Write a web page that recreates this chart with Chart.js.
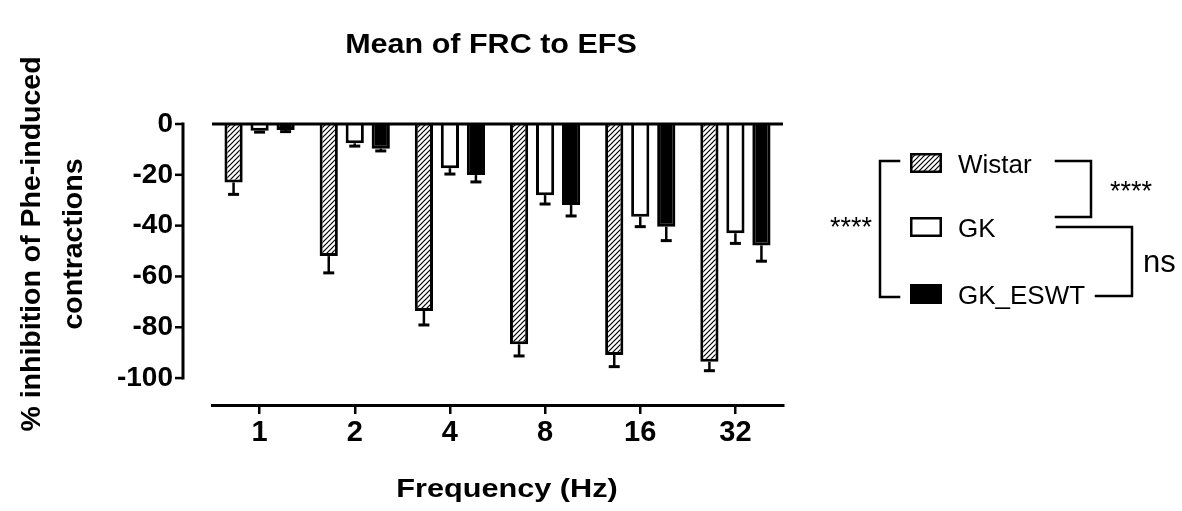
<!DOCTYPE html>
<html><head><meta charset="utf-8">
<script src="https://cdn.jsdelivr.net/npm/chart.js@4.4.1/dist/chart.umd.min.js"></script>
<style>html,body{margin:0;padding:0;background:#fff;} canvas{display:block;}</style>
</head><body>
<canvas id="c" width="1182" height="511"></canvas>
<script>
// ---- data ----
const frequencies = ['1', '2', '4', '8', '16', '32'];
const seriesNames = ['Wistar', 'GK', 'GK_ESWT'];
const wistarMean  = [-23.0, -52.0, -73.6, -86.7, -90.9, -93.6];
const wistarSem   = [4.7, 6.6, 5.5, 4.6, 4.6, 3.5];
const gkMean      = [-2.7, -7.6, -17.4, -28.0, -36.5, -43.0];
const gkSem       = [0.5, 1.1, 2.3, 3.5, 3.9, 4.0];
const gkEswtMean  = [-2.4, -9.7, -20.1, -31.9, -40.4, -47.8];
const gkEswtSem   = [0.6, 0.9, 2.7, 4.3, 5.5, 6.2];
const yTickValues = [0, -20, -40, -60, -80, -100];
const titleText   = 'Mean of FRC to EFS';
const xTitleText  = 'Frequency (Hz)';
const yTitleLines = ['% inhibition of Phe-induced', 'contractions'];
const sigLabels   = ['****', '****', 'ns'];

// ---- styling ----
const FONT = '"Liberation Sans", Arial, Helvetica, sans-serif';
const Y_MIN = -110.6;

function makeHatch() {
  const c = document.createElement('canvas');
  c.width = 5; c.height = 5;
  const g = c.getContext('2d');
  g.fillStyle = '#fff'; g.fillRect(0, 0, 5, 5);
  g.strokeStyle = '#000'; g.lineWidth = 1.2;
  g.beginPath(); g.moveTo(-1, 6); g.lineTo(6, -1); g.stroke();
  g.beginPath(); g.moveTo(-1, 1); g.lineTo(1, -1); g.stroke();
  g.beginPath(); g.moveTo(4, 6); g.lineTo(6, 4); g.stroke();
  return g.createPattern(c, 'repeat');
}
const hatch = makeHatch();
const fills = [hatch, '#ffffff', '#000000'];
const sems = [wistarSem, gkSem, gkEswtSem];

function txt(ctx, s, x, y, size, weight, align, sx) {
  ctx.save();
  ctx.translate(x, y);
  ctx.scale(sx || 1, 1);
  ctx.font = weight + ' ' + size + 'px ' + FONT;
  ctx.textAlign = align;
  ctx.textBaseline = 'alphabetic';
  ctx.fillStyle = '#000';
  ctx.fillText(s, 0, 0);
  ctx.restore();
}
function seg(ctx, pts, w) {
  ctx.save();
  ctx.strokeStyle = '#000';
  ctx.lineWidth = w;
  ctx.lineCap = 'square';
  ctx.beginPath();
  ctx.moveTo(pts[0][0], pts[0][1]);
  for (let i = 1; i < pts.length; i++) ctx.lineTo(pts[i][0], pts[i][1]);
  ctx.stroke();
  ctx.restore();
}

const decor = {
  id: 'decor',
  afterDatasetsDraw(chart) {
    const ctx = chart.ctx;
    const ys = chart.scales.y;
    const area = chart.chartArea;
    // error bars (one-sided, away from zero)
    chart.data.datasets.forEach((ds, i) => {
      const meta = chart.getDatasetMeta(i);
      meta.data.forEach((bar, j) => {
        const v = ds.data[j];
        const e = sems[i][j];
        const y1 = ys.getPixelForValue(v);
        const y2 = ys.getPixelForValue(v - e);
        ctx.save();
        ctx.strokeStyle = '#000';
        ctx.lineWidth = 2.5;
        ctx.beginPath(); ctx.moveTo(bar.x, y1); ctx.lineTo(bar.x, y2); ctx.stroke();
        ctx.lineWidth = 3;
        ctx.beginPath(); ctx.moveTo(bar.x - 5.5, y2); ctx.lineTo(bar.x + 5.5, y2); ctx.stroke();
        ctx.restore();
      });
    });
    // zero line
    const y0 = ys.getPixelForValue(0);
    ctx.save();
    ctx.strokeStyle = '#000'; ctx.lineWidth = 3;
    ctx.beginPath(); ctx.moveTo(area.left, y0); ctx.lineTo(area.right, y0); ctx.stroke();
    ctx.restore();
    // detached y axis line + ticks
    const ax = area.left - 29;
    const yTop = ys.getPixelForValue(yTickValues[0]);
    const yBot = ys.getPixelForValue(yTickValues[yTickValues.length - 1]);
    ctx.save();
    ctx.strokeStyle = '#000'; ctx.lineWidth = 3;
    ctx.beginPath(); ctx.moveTo(ax, yTop - 1.5); ctx.lineTo(ax, yBot + 1.5); ctx.stroke();
    ctx.lineWidth = 2.5;
    yTickValues.forEach(v => {
      const p = ys.getPixelForValue(v);
      ctx.beginPath(); ctx.moveTo(ax - 8, p); ctx.lineTo(ax, p); ctx.stroke();
    });
    ctx.restore();
  },
  afterDraw(chart) {
    const ctx = chart.ctx;
    // titles
    txt(ctx, titleText, 491, 53, 28, 'bold', 'center', 1.09);
    txt(ctx, xTitleText, 507, 497, 26, 'bold', 'center', 1.18);
    ctx.save();
    ctx.translate(40, 244);
    ctx.rotate(-Math.PI / 2);
    txt(ctx, yTitleLines[0], 0, 0, 28.5, 'bold', 'center', 1);
    ctx.restore();
    ctx.save();
    ctx.translate(82, 244);
    ctx.rotate(-Math.PI / 2);
    txt(ctx, yTitleLines[1], 0, 0, 28.5, 'bold', 'center', 1);
    ctx.restore();
    // legend
    const boxes = [[910, 153], [910, 217], [910, 284]];
    const baselines = [173, 237, 304];
    seriesNames.forEach((name, i) => {
      const b = boxes[i];
      ctx.save();
      ctx.fillStyle = fills[i];
      ctx.fillRect(b[0], b[1], 32, 20);
      ctx.strokeStyle = '#000'; ctx.lineWidth = 2.5;
      ctx.strokeRect(b[0] + 1.25, b[1] + 1.25, 29.5, 17.5);
      ctx.restore();
      txt(ctx, name, 958, baselines[i], 26, 'normal', 'left', 1);
    });
    // significance brackets
    seg(ctx, [[899, 161], [880, 161], [880, 297], [899, 297]], 2.5);
    txt(ctx, sigLabels[0], 872, 236, 27, 'normal', 'right', 1);
    seg(ctx, [[1056, 161], [1091, 161], [1091, 217], [1056, 217]], 2.5);
    txt(ctx, sigLabels[1], 1110, 200, 27, 'normal', 'left', 1);
    seg(ctx, [[1057, 227], [1132, 227], [1132, 296], [1096, 296]], 2.5);
    txt(ctx, sigLabels[2], 1143, 272, 31, 'normal', 'left', 1);
  }
};

const datasets = [wistarMean, gkMean, gkEswtMean].map((d, i) => ({
  label: seriesNames[i],
  data: d,
  backgroundColor: fills[i],
  borderColor: '#000',
  borderWidth: 3,
  barPercentage: 0.7,
  categoryPercentage: 0.82
}));

new Chart(document.getElementById('c'), {
  type: 'bar',
  data: { labels: frequencies, datasets: datasets },
  options: {
    responsive: false,
    devicePixelRatio: 1,
    animation: false,
    layout: { padding: { left: 0, top: 124, right: 399, bottom: 0 } },
    plugins: { legend: { display: false }, tooltip: { enabled: false }, title: { display: false } },
    scales: {
      x: {
        offset: true,
        grid: { offset: false, drawOnChartArea: false, drawTicks: true, tickLength: 9, lineWidth: 2.5, color: '#000' },
        border: { display: true, width: 3, color: '#000' },
        ticks: { color: '#000', font: { family: FONT, size: 29, weight: 'bold' }, padding: 2, maxRotation: 0, autoSkip: false },
        afterFit: s => { s.height = 106; }
      },
      y: {
        min: Y_MIN,
        max: 0,
        afterBuildTicks: s => { s.ticks = yTickValues.map(v => ({ value: v })); },
        grid: { display: false, drawTicks: false },
        border: { display: false },
        ticks: { color: '#000', font: { family: FONT, size: 28, weight: 'bold' }, padding: 39 },
        afterFit: s => { s.width = 212; }
      }
    }
  },
  plugins: [decor]
});
</script>
</body></html>
